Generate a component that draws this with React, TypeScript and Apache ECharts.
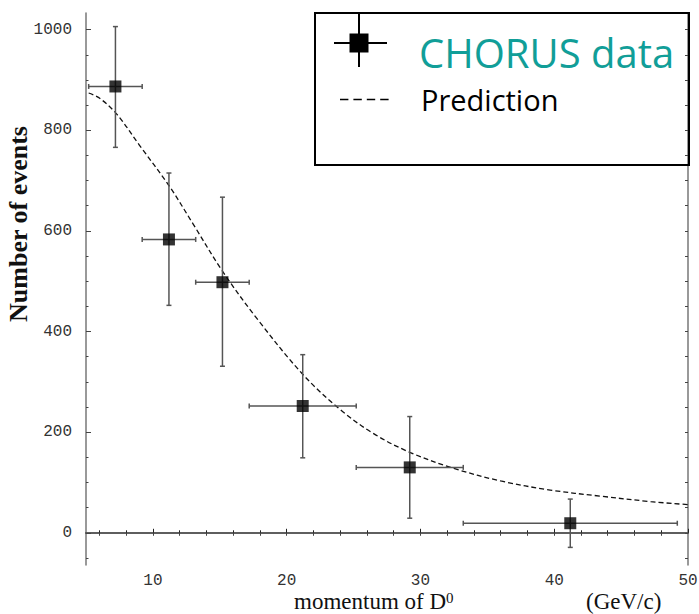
import React, { useEffect, useRef } from "react";
import * as echarts from "echarts";

// Data
const xCenters = [7.2, 11.2, 15.2, 21.2, 29.2, 41.2];
const xLow = [5.2, 9.2, 13.2, 17.2, 25.2, 33.2];
const xHigh = [9.2, 13.2, 17.2, 25.2, 33.2, 49.2];
const yValues = [887, 583, 498, 252, 130, 19];
const yErrUp = [119, 132, 169, 102, 101, 48];
const yErrDown = [121, 131, 167, 103, 101, 48];

const predX = [5.2, 6.0, 7.3, 9.0, 11.2, 13.0, 15.2, 17.8, 21.2, 24.0, 26.5, 29.2, 32.5, 36.0, 39.7, 43.4, 47.2, 50];
const predY = [874, 864, 832, 770, 690, 614, 520, 425, 315, 245, 197, 160, 128, 103, 85, 73, 62, 56];

const xMajorTicks = [10, 20, 30, 40, 50];
const xMinorTicks = [6, 8, 12, 14, 16, 18, 22, 24, 26, 28, 32, 34, 36, 38, 42, 44, 46, 48];
const xTopTicks = [6, 8, 10, 12, 14, 16, 18, 20, 22, 24, 26, 28, 30, 32, 34, 36, 38, 40, 42, 44, 46, 48];
const yMajorTicks = [0, 200, 400, 600, 800, 1000];
const yMinorTicks = [-50, 50, 100, 150, 250, 300, 350, 450, 500, 550, 650, 700, 750, 850, 900, 950];
const yRightTicks = [-50, 0, 50, 100, 150, 200, 250, 300, 350, 400, 450, 500, 550, 600, 650, 700, 750, 800, 850, 900, 950, 1000];

const X_MIN = 5, X_MAX = 50, Y_MIN = -64, Y_MAX = 1033;

const monoLabel = { fontFamily: "Liberation Mono", fontSize: 16, color: "#333", formatter: (v: number) => String(v) };

export default function App() {
  const ref = useRef<HTMLDivElement>(null);
  useEffect(() => {
    if (!ref.current) return;
    const chart = echarts.init(ref.current, undefined, { renderer: "svg" });
    const errData = xCenters.map((x, i) => [x, yValues[i], xLow[i], xHigh[i], yValues[i] - yErrDown[i], yValues[i] + yErrUp[i]]);
    const ptData = xCenters.map((x, i) => [x, yValues[i]]);
    const predData = predX.map((x, i) => [x, predY[i]]);

    const baseX = { type: "value", min: X_MIN, max: X_MAX, splitLine: { show: false } };
    const baseY = { type: "value", min: Y_MIN, max: Y_MAX, splitLine: { show: false } };

    chart.setOption({
      animation: false,
      backgroundColor: "#fff",
      grid: { left: 86, right: 11, top: 13, bottom: 49, containLabel: false, outerBoundsMode: "none" },
      xAxis: [
        {
          ...baseX, position: "bottom",
          axisLine: { show: true, lineStyle: { color: "#111", width: 1.5 } },
          axisTick: { show: true, inside: true, length: 4, customValues: xMajorTicks, lineStyle: { color: "#222" } },
          axisLabel: { ...monoLabel, margin: 8, lineHeight: 16, customValues: xMajorTicks },
        },
        {
          ...baseX, position: "bottom",
          axisLine: { show: false },
          axisTick: { show: true, inside: true, length: 2.5, customValues: xMinorTicks, lineStyle: { color: "#222" } },
          axisLabel: { show: false },
        },
        {
          ...baseX, position: "top",
          axisLine: { show: true, lineStyle: { color: "#666", width: 1.5 } },
          axisTick: { show: true, inside: true, length: 3, customValues: xTopTicks, lineStyle: { color: "#444" } },
          axisLabel: { show: false },
        },
      ],
      yAxis: [
        {
          ...baseY, position: "left",
          axisLine: { show: true, lineStyle: { color: "#777", width: 1.5 } },
          axisTick: { show: true, inside: true, length: 5, customValues: yMajorTicks, lineStyle: { color: "#444" } },
          axisLabel: { ...monoLabel, margin: 14, customValues: yMajorTicks },
        },
        {
          ...baseY, position: "left",
          axisLine: { show: false },
          axisTick: { show: true, inside: true, length: 2.5, customValues: yMinorTicks, lineStyle: { color: "#444" } },
          axisLabel: { show: false },
        },
        {
          ...baseY, position: "right",
          axisLine: { show: true, lineStyle: { color: "#777", width: 1.5 } },
          axisTick: { show: true, inside: true, length: 3, customValues: yRightTicks, lineStyle: { color: "#444" } },
          axisLabel: { show: false },
        },
      ],
      series: [
        {
          name: "Prediction",
          type: "line",
          xAxisIndex: 0, yAxisIndex: 0,
          data: predData,
          showSymbol: false,
          smooth: 0.35,
          lineStyle: { color: "#111", width: 1.3, type: [5, 3] },
          z: 2,
        },
        {
          name: "errors",
          type: "custom",
          xAxisIndex: 0, yAxisIndex: 0,
          data: errData,
          encode: { x: 0, y: 1 },
          z: 3,
          renderItem: (params: any, api: any) => {
            const x = api.value(0), y = api.value(1);
            const pl = api.coord([api.value(2), y]);
            const ph = api.coord([api.value(3), y]);
            const pb = api.coord([x, api.value(4)]);
            const pt = api.coord([x, api.value(5)]);
            const cap = 2.5;
            const style = { stroke: "#555", lineWidth: 1.5 };
            const ln = (x1: number, y1: number, x2: number, y2: number) => ({ type: "line", shape: { x1, y1, x2, y2 }, style });
            return {
              type: "group",
              children: [
                ln(pl[0], pl[1], ph[0], ph[1]),
                ln(pl[0], pl[1] - cap, pl[0], pl[1] + cap),
                ln(ph[0], ph[1] - cap, ph[0], ph[1] + cap),
                ln(pb[0], pb[1], pt[0], pt[1]),
                ln(pb[0] - cap, pb[1], pb[0] + cap, pb[1]),
                ln(pt[0] - cap, pt[1], pt[0] + cap, pt[1]),
              ],
            };
          },
        },
        {
          name: "CHORUS data",
          type: "scatter",
          xAxisIndex: 0, yAxisIndex: 0,
          data: ptData,
          symbol: "rect",
          symbolSize: 12,
          itemStyle: { color: "#000" },
          z: 4,
        },
      ],
      graphic: [
        {
          type: "text",
          x: 18, y: 224, rotation: Math.PI / 2,
          style: {
            text: "Number of events",
            fontFamily: "Liberation Serif", fontWeight: "bold", fontSize: 26, fill: "#111",
            align: "center", verticalAlign: "middle",
          },
        },
        {
          type: "text",
          x: 294, y: 613,
          style: {
            text: "momentum of D{s|0}",
            fontFamily: "Liberation Serif", fontSize: 23, fill: "#111", verticalAlign: "bottom",
            rich: { s: { fontFamily: "Liberation Serif", fontSize: 15, verticalAlign: "top", fill: "#111" } },
          },
        },
        {
          type: "text",
          x: 586, y: 613,
          style: { text: "(GeV/c)", fontFamily: "Liberation Serif", fontSize: 23, fill: "#111", verticalAlign: "bottom" },
        },
        // legend box
        {
          type: "rect",
          shape: { x: 315, y: 13, width: 374, height: 152 },
          style: { fill: "none", stroke: "#000", lineWidth: 2 },
          z: 10,
        },
        { type: "line", shape: { x1: 334, y1: 43, x2: 387, y2: 43 }, style: { stroke: "#000", lineWidth: 2 }, z: 10 },
        { type: "line", shape: { x1: 359, y1: 14, x2: 359, y2: 67 }, style: { stroke: "#000", lineWidth: 2 }, z: 10 },
        { type: "rect", shape: { x: 349.5, y: 33.5, width: 19, height: 19 }, style: { fill: "#000" }, z: 10 },
        { type: "line", shape: { x1: 340, y1: 99.5, x2: 392, y2: 99.5 }, style: { stroke: "#000", lineWidth: 1.5, lineDash: [8.4, 5] }, z: 10 },
        {
          type: "text", x: 419, y: 72.5, z: 10,
          style: { text: "CHORUS data", fontFamily: "Open Sans", fontSize: 40, fill: "#119e98", verticalAlign: "bottom" },
        },
        {
          type: "text", x: 421, y: 113.5, z: 10,
          style: { text: "Prediction", fontFamily: "Open Sans", fontSize: 29, fill: "#000", verticalAlign: "bottom" },
        },
      ],
    });
    return () => chart.dispose();
  }, []);
  return <div ref={ref} style={{ position: "fixed", left: 0, top: 0, width: 699, height: 614 }} />;
}
